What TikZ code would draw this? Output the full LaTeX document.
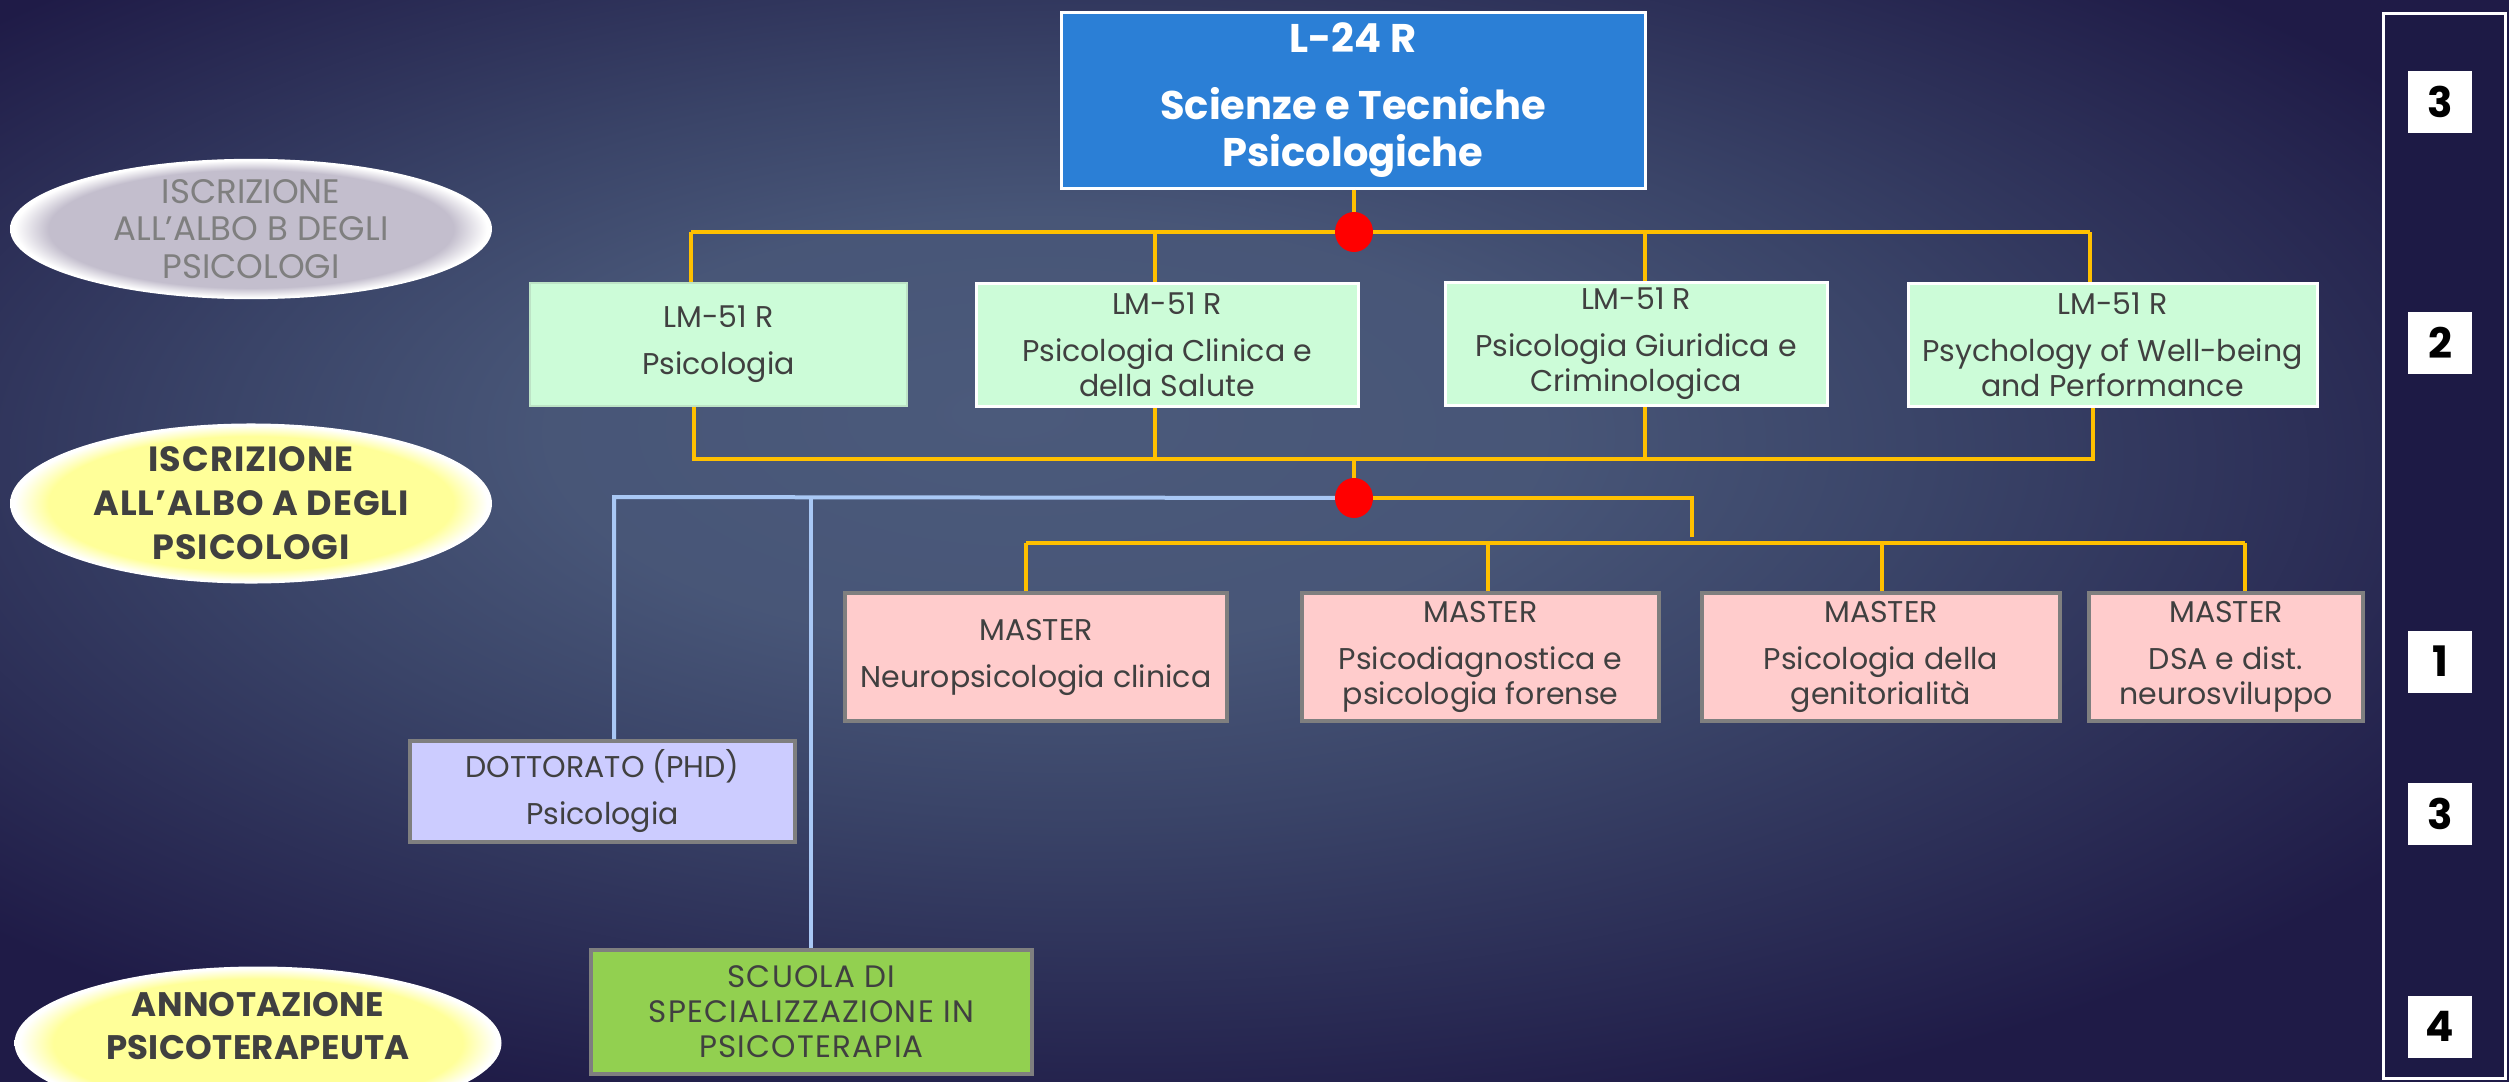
\documentclass[tikz,border=0pt]{standalone}
\usepackage{fontspec}
\setmainfont{Poppins}
\usetikzlibrary{shapes.geometric}
\definecolor{bgin}{HTML}{4B5A7B}
\definecolor{bgmid}{HTML}{3A4468}
\definecolor{bgout}{HTML}{1F1B47}
\definecolor{lineyel}{HTML}{FFC000}
\definecolor{lineblu}{HTML}{A9C8F5}
\definecolor{topblue}{HTML}{2B7FD6}
\definecolor{mint}{HTML}{CCFCD8}
\definecolor{pinkm}{HTML}{FFCCCC}
\definecolor{lilac}{HTML}{CCCCFF}
\definecolor{greenb}{HTML}{92D050}
\definecolor{txtgray}{HTML}{404040}
\definecolor{boxgray}{HTML}{7F7F7F}
\definecolor{panelbg}{HTML}{1D1A45}
\definecolor{ellyel}{HTML}{FFFF99}
\definecolor{ellgry}{HTML}{C3BECD}
\pgfdeclareradialshading{bgglow}{\pgfpoint{-5bp}{6bp}}{color(0bp)=(bgin); color(10bp)=(bgin!80!bgmid); color(17bp)=(bgmid); color(31bp)=(bgout); color(60bp)=(bgout)}
\pgfdeclareradialshading{ellyshade}{\pgfpoint{0bp}{0bp}}{color(0bp)=(ellyel); color(21bp)=(ellyel); color(24.5bp)=(white); color(50bp)=(white)}
\pgfdeclareradialshading{ellgshade}{\pgfpoint{0bp}{0bp}}{color(0bp)=(ellgry); color(21bp)=(ellgry); color(24.5bp)=(white); color(50bp)=(white)}
\tikzset{
  yel/.style={draw=lineyel, line width=2pt},
  blu/.style={draw=lineblu, line width=2pt},
  dotnode/.style={ellipse, fill=red, minimum width=19pt, minimum height=20pt, inner sep=0pt},
  basebox/.style={rectangle, inner sep=0pt, align=center, text=txtgray},
  topbox/.style={basebox, fill=topblue, draw=white, line width=1.5pt, text=white,
    minimum width=292pt, minimum height=87.5pt, font=\bfseries\fontsize{20}{23.5}\selectfont},
  lmbox/.style={basebox, fill=mint, draw=white, line width=1.5pt, minimum height=61.5pt,
    font=\fontsize{15}{17.5}\selectfont},
  masterbox/.style={basebox, fill=pinkm, draw=boxgray, line width=2pt, minimum height=64pt,
    font=\fontsize{15}{17.5}\selectfont},
  phdbox/.style={basebox, fill=lilac, draw=boxgray, line width=2pt, minimum width=192.5pt,
    minimum height=50.5pt, font=\fontsize{15}{17.5}\selectfont},
  scuolabox/.style={basebox, fill=greenb, draw=boxgray, line width=2pt, minimum width=220.5pt,
    minimum height=62pt, font=\fontsize{15.5}{17.5}\selectfont\addfontfeature{LetterSpace=4}},
  ellA/.style={ellipse, inner sep=0pt, shading=ellyshade, align=center, text=txtgray,
    minimum width=241pt, minimum height=76.5pt,
    font=\bfseries\fontsize{17.5}{22}\selectfont\addfontfeature{LetterSpace=3}},
  ellB/.style={ellipse, inner sep=0pt, shading=ellgshade, align=center, text=boxgray,
    minimum width=241pt, minimum height=67.5pt, font=\fontsize{17}{18.75}\selectfont},
  elltext/.style={inner sep=0pt, align=center, text=txtgray,
    font=\bfseries\fontsize{17}{21.5}\selectfont\addfontfeature{LetterSpace=1}},
  panelbox/.style={rectangle, fill=panelbg, draw=white, line width=1.5pt, inner sep=0pt,
    minimum width=61pt, minimum height=532pt},
  numbox/.style={rectangle, fill=white, inner sep=0pt, minimum width=32pt, minimum height=31pt,
    text=black, font=\bfseries\fontsize{21}{21}\selectfont},
}
\begin{document}
\begin{tikzpicture}[x=0.5pt,y=-0.5pt]
\useasboundingbox (0,0) rectangle (2509,1081);
\begin{scope}
\clip (0,0) rectangle (2509,1081);
\shade[shading=bgglow] (0,0) rectangle (2509,1081);

% left ellipses
\node[ellB] (eb) at (251,229) {ISCRIZIONE\\ALL’ALBO B DEGLI\\PSICOLOGI};
\node[ellA] (ea) at (251,503.5) {ISCRIZIONE\\ALL’ALBO A DEGLI\\PSICOLOGI};
\node[ellA, minimum width=243.5pt] (ec) at (258,1043) {};
\node[elltext] (ect) at (258,1026) {ANNOTAZIONE\\PSICOTERAPEUTA};

% right panel
\node[panelbox] (panel) at (2444,546) {};
\node[numbox] (n1) at (2440,102) {3};
\node[numbox] (n2) at (2440,342.5) {2};
\node[numbox] (n3) at (2440,661.5) {1};
\node[numbox] (n4) at (2440,813.5) {3};
\node[numbox] (n5) at (2440,1026.5) {4};

% boxes
\node[topbox] (top) at (1353,100.5) {L-24 R\\[10pt]Scienze e Tecniche\\Psicologiche};
\node[lmbox, minimum width=188.5pt, draw=mint!80!gray, line width=0.6pt] (lm1) at (718.5,344.5) {LM-51 R\\[6pt]Psicologia};
\node[lmbox, minimum width=191pt] (lm2) at (1167,345) {LM-51 R\\[6pt]Psicologia Clinica e\\della Salute};
\node[lmbox, minimum width=191pt] (lm3) at (1636,344) {LM-51 R\\[6pt]Psicologia Giuridica e\\Criminologica};
\node[lmbox, minimum width=204.5pt] (lm4) at (2112.5,345) {LM-51 R\\[6pt]Psychology of Well-being\\and Performance};

\node[masterbox, minimum width=191pt] (m1) at (1036,657) {MASTER\\[6pt]Neuropsicologia clinica};
\node[masterbox, minimum width=178.5pt] (m2) at (1480.5,657) {MASTER\\[6pt]Psicodiagnostica e\\psicologia forense};
\node[masterbox, minimum width=179pt] (m3) at (1881,657) {MASTER\\[6pt]Psicologia della\\genitorialità};
\node[masterbox, minimum width=137pt] (m4) at (2226,657) {MASTER\\[6pt]DSA e dist.\\neurosviluppo};

\node[phdbox] (phd) at (602.5,791.5) {DOTTORATO (PHD)\\[6pt]Psicologia};
\node[scuolabox] (scuola) at (811.5,1012) {SCUOLA DI\\SPECIALIZZAZIONE IN\\PSICOTERAPIA};

% junctions
\coordinate (c1) at (1354,232);
\coordinate (c2) at (1354,498);
\coordinate (b1l) at (691,232);
\coordinate (v12) at (1155,232);
\coordinate (v13) at (1645,232);
\coordinate (b1r) at (2090,232);
\coordinate (b2l) at (694,459);
\coordinate (v22) at (1155,459);
\coordinate (v2c) at (1354,459);
\coordinate (v23) at (1645,459);
\coordinate (b2r) at (2093,459);
\coordinate (k1) at (1692,498);
\coordinate (k2) at (1692,537);
\coordinate (mbl) at (1026,543);
\coordinate (mv2) at (1488,543);
\coordinate (mv3) at (1882,543);
\coordinate (mbr) at (2245,543);
\coordinate (bl) at (614,497);
\coordinate (bs) at (811,497);

% yellow connectors
\draw[yel] (top.south -| c1) -- (c1);
\draw[yel] (b1l) -- (b1r);
\draw[yel] (b1l) -- (b1l |- lm1.north);
\draw[yel] (v12) -- (v12 |- lm2.north);
\draw[yel] (v13) -- (v13 |- lm3.north);
\draw[yel] (b1r) -- (b1r |- lm4.north);
\draw[yel] (lm1.south -| b2l) -- (b2l) -- (b2r) -- (lm4.south -| b2r);
\draw[yel] (lm2.south -| v22) -- (v22);
\draw[yel] (lm3.south -| v23) -- (v23);
\draw[yel] (v2c) -- (c2);
\draw[yel] (c2) -- (k1) -- (k2);
\draw[yel] (mbl) -- (mbr);
\draw[yel] (mbl) -- (mbl |- m1.north);
\draw[yel] (mv2) -- (mv2 |- m2.north);
\draw[yel] (mv3) -- (mv3 |- m3.north);
\draw[yel] (mbr) -- (mbr |- m4.north);

% blue connectors
\draw[blu] (c2) -- (bl) -- (bl |- phd.north);
\draw[blu] (bs) -- (bs |- scuola.north);

% red dots
\node[dotnode] (d1) at (c1) {};
\node[dotnode] (d2) at (c2) {};
\end{scope}
\end{tikzpicture}
\end{document}
